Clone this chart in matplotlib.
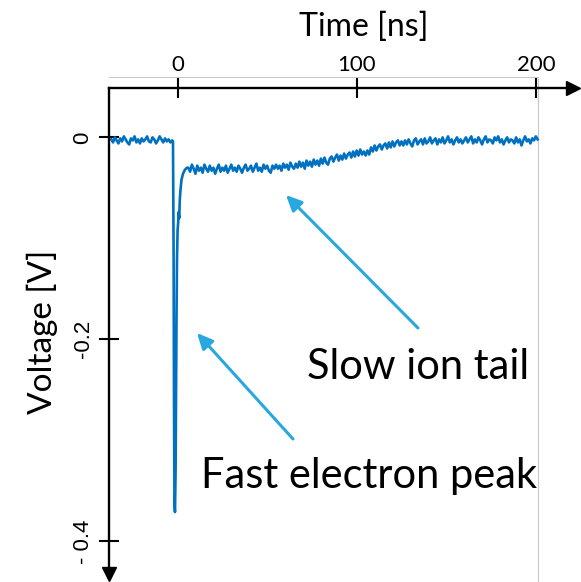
import matplotlib
matplotlib.use("Agg")
import matplotlib.pyplot as plt
import numpy as np

# ---------------- data (time in ns, voltage in mV) ----------------
pre_t = np.arange(-37, -2)          # sample times before the pulse
pre_mv = [-2, -5, 0, -3, -6, -1, -4, 1, -2, -5,
          -7, -1, -3, 1, -5, -2, -6, -1, -4, -2,
          1, -4, -5, 0, -2, -6, -3, 1, -2, -5,
          -1, -4, -2, -5, -3]

spike_t = [-2.55, -2.21, -1.99, -1.71, -1.43, -1.09, -0.87, -0.59, -0.31, 0.02,
           0.36, 0.58, 0.92, 1.25, 1.64, 2.20, 3.04, 4.15, 5.27]
spike_mv = [-4, -112, -260, -364, -371, -329, -260, -181, -121, -92,
            -84, -74, -80, -62, -52, -42, -36, -32, -30]

tail_t = np.arange(6, 202)           # sample times of the ion tail
tail_mv = [-30, -34, -27, -31, -36, -28, -33, -30, -35, -27,
           -31, -34, -28, -33, -30, -36, -31, -27, -34, -30,
           -33, -28, -35, -31, -27, -33, -30, -34, -28, -31,
           -35, -30, -27, -33, -31, -28, -34, -30, -26, -33,
           -30, -34, -27, -31, -28, -33, -35, -28, -31, -27,
           -31, -28, -33, -26, -30, -27, -32, -25, -29, -31,
           -26, -30, -24, -29, -25, -31, -23, -28, -24, -29,
           -22, -27, -23, -28, -21, -26, -20, -25, -27, -21,
           -19, -24, -20, -17, -23, -18, -22, -16, -21, -17,
           -15, -20, -14, -19, -13, -18, -12, -17, -14, -18,
           -13, -17, -10, -14, -8, -13, -9, -7, -12, -8,
           -6, -11, -5, -10, -4, -9, -5, -3, -8, -4,
           -8, -3, -7, -2, -6, -9, -3, -1, -7, -4,
           -2, -7, -1, -6, -4, 0, -6, -3, -1, -7,
           -2, -5, 0, -6, -3, 1, -5, -2, -7, -3,
           0, -5, -2, -6, -3, 0, -5, -2, 1, -6,
           -2, -5, 0, -3, -7, -2, 1, -5, -2, -3,
           -6, 0, -3, 1, -5, -2, -7, -3, 0, -5,
           -2, -3, -6, 0, -5, -2, -8, -3, 1, -4,
           -2, -6, -1, -3, 1, -2]

x_ticks = [0, 100, 200]
x_tick_labels = ["0", "100", "200"]
y_ticks = [0.0, -0.2, -0.4]
y_tick_labels = ["0", "-0.2", "- 0.4"]

x_title = "Time [ns]"
y_title = "Voltage [V]"
label_slow = "Slow ion tail"
label_fast = "Fast electron peak"

# ---------------- figure ----------------
W, H = 581, 582
fig = plt.figure(figsize=(W / 100, H / 100), dpi=100)
fig.patch.set_facecolor("white")
ax = fig.add_axes([108.5 / W, 1 - 574 / H, (573 - 108.5) / W, (574 - 88) / H])
ax.set_facecolor("none")
ax.set_xlim(-38.55, 220.76)
ax.set_ylim(-0.43231, 0.04888)

for s in ("right", "bottom"):
    ax.spines[s].set_visible(False)
for s in ("top", "left"):
    ax.spines[s].set_linewidth(1.7)
    ax.spines[s].set_color("black")
    ax.spines[s].set_zorder(5)

ax.xaxis.set_ticks_position("top")
ax.yaxis.set_ticks_position("left")
ax.tick_params(axis="x", direction="inout", length=14.4, width=1.5, pad=2,
               top=True, bottom=False, labeltop=True, labelbottom=False)
ax.tick_params(axis="y", direction="inout", length=13.7, width=1.5, pad=3.9)
ax.set_xticks(x_ticks)
ax.set_xticklabels(x_tick_labels, fontsize=16, family="Lato")
ax.set_yticks(y_ticks)
ax.set_yticklabels(y_tick_labels, fontsize=16, family="Liberation Sans",
                   rotation=90, va="center")

# axis arrowheads
ax.plot([1], [1], marker=">", ms=10, color="black", transform=ax.transAxes,
        clip_on=False, zorder=6)
ax.plot([0], [0], marker="v", ms=10, color="black", transform=ax.transAxes,
        clip_on=False, zorder=6)

# faint frame of the original plot area
ax.plot([-38.55, 201.2, 201.2], [0.0598, 0.0598, -0.4403], color="#C8C8C8",
        lw=0.8, clip_on=False, zorder=1)

# trace
t_all = np.concatenate([pre_t, spike_t, tail_t])
v_all = np.concatenate([pre_mv, spike_mv, tail_mv]) / 1000.0
ax.plot(t_all, v_all, color="#0070C0", lw=1.9, zorder=3, clip_on=False)

# annotations
arrow_color = "#29A8E0"
aprops = dict(arrowstyle="-|>,head_length=0.47,head_width=0.22", color=arrow_color,
              lw=2.2, mutation_scale=20, shrinkA=0, shrinkB=0)
ax.annotate("", xy=(60.54, -0.05706), xytext=(134.23, -0.18874), arrowprops=aprops)
ax.annotate("", xy=(10.85, -0.19369), xytext=(64.45, -0.29864), arrowprops=aprops)
ax.text(72.26, -0.23924, label_slow, fontsize=30, family="Lato",
        ha="left", va="baseline")
ax.text(12.92, -0.34716, label_fast, fontsize=30, family="Lato",
        ha="left", va="baseline")

# axis titles
fig.text(364 / W, 1 - 36 / H, x_title, fontsize=23, family="Lato",
         ha="center", va="baseline")
fig.text(42.5 / W, 1 - 331.5 / H, y_title, fontsize=24, family="Lato",
         rotation=90, ha="center", va="center")

fig.savefig("out.png", dpi=100)
